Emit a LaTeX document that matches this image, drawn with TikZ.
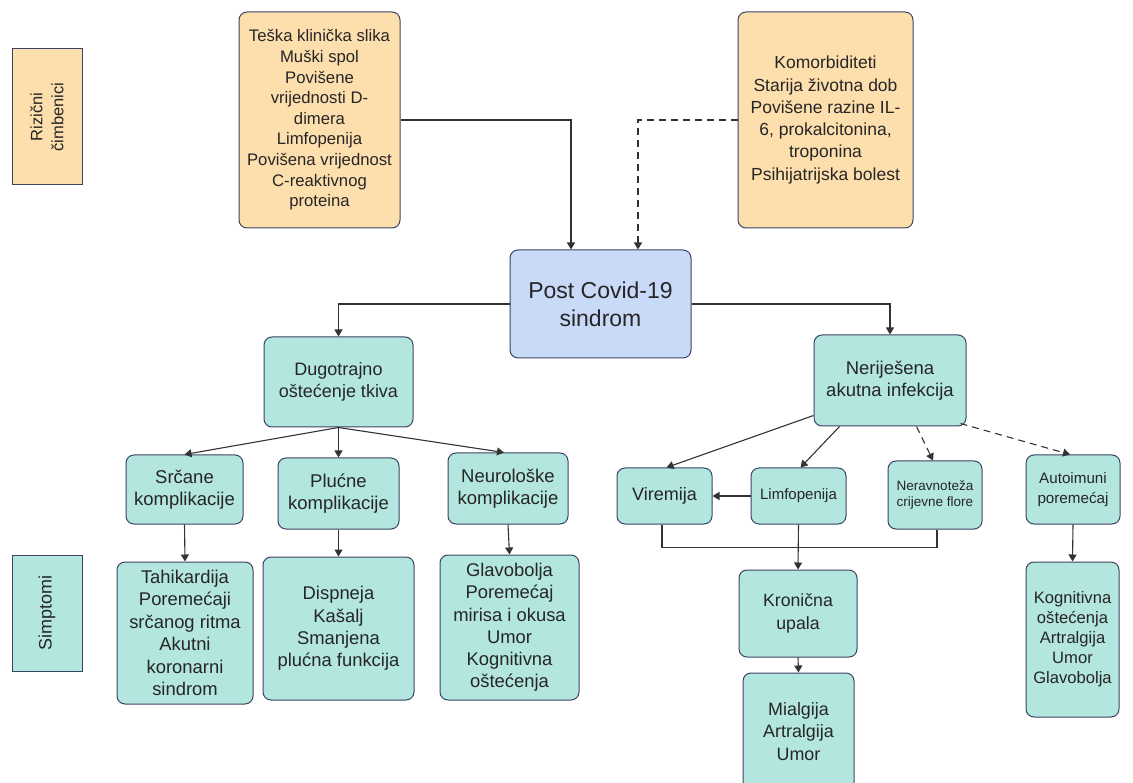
\documentclass[tikz,border=0pt]{standalone}
\usepackage{fontspec}
\setmainfont{Liberation Sans}
\usetikzlibrary{arrows.meta, shapes, positioning}

\definecolor{riskfill}{HTML}{FDDEAD}
\definecolor{symfill}{HTML}{B3E6DE}
\definecolor{corefill}{HTML}{C9DAF8}
\definecolor{boxline}{HTML}{3C4466}
\definecolor{arrowline}{HTML}{333333}

\begin{document}
\begin{tikzpicture}[
  x=1pt, y=-1pt,
  >={Triangle[width=8pt,length=7pt]},
  box/.style={
    rectangle, rounded corners=8pt,
    draw=boxline, line width=1pt,
    inner sep=2pt,
    align=center, text=black!85
  },
  side/.style={
    rectangle, draw=boxline, line width=1pt,
    rotate=90, align=center, text=black!85
  },
  risk/.style={box, fill=riskfill},
  sym/.style={box, fill=symfill},
  core/.style={box, fill=corefill},
  fsize/.style 2 args={font=\fontsize{#1}{#2}\selectfont},
  arrow/.style={->, draw=arrowline, line width=1.1pt},
  link/.style={draw=arrowline, line width=1.1pt},
  dashline/.style={dash pattern=on 7pt off 5pt}
]

\clip (0,0) rectangle (1133,783);

\node[side, fill=riskfill, minimum width=136pt, minimum height=70pt, fsize={16.5}{21}] (rizicni) at (47,117) {Rizični\\čimbenici};

\node[side, fill=symfill, minimum width=116pt, minimum height=70pt, fsize={18}{22}] (simptomi) at (47,613) {Simptomi};

\node[risk, minimum width=161pt, minimum height=216pt, fsize={16.7}{20.6}] (teska) at (319.5,120) {Teška klinička slika\\Muški spol\\Povišene\\vrijednosti D-\\dimera\\Limfopenija\\Povišena vrijednost\\C-reaktivnog\\proteina};

\node[risk, minimum width=175pt, minimum height=216pt, fsize={17.5}{22.3}] (komorb) at (825.5,120) {Komorbiditeti\\Starija životna dob\\Povišene razine IL-\\6, prokalcitonina,\\troponina\\Psihijatrijska bolest};

\node[core, minimum width=181pt, minimum height=108pt, fsize={23}{28}] (post) at (600.5,304) {Post Covid-19\\sindrom};

\node[sym, minimum width=149pt, minimum height=90pt, fsize={18}{22}] (dugotrajno) at (338.5,382) {Dugotrajno\\oštećenje tkiva};

\node[sym, minimum width=152pt, minimum height=91pt, fsize={18.5}{21.7}] (nerijesena) at (890,380.5) {Neriješena\\akutna infekcija};

\node[sym, minimum width=117pt, minimum height=69pt, fsize={18.5}{21.7}] (srcane) at (184.5,489.5) {Srčane\\komplikacije};

\node[sym, minimum width=121pt, minimum height=71pt, fsize={18.5}{21.7}] (plucne) at (338.5,493.5) {Plućne\\komplikacije};

\node[sym, minimum width=120pt, minimum height=71pt, fsize={18.5}{21.7}] (neuro) at (508,488.5) {Neurološke\\komplikacije};

\node[sym, minimum width=136pt, minimum height=142pt, fsize={18.4}{22.4}] (tahikardija) at (185,633) {Tahikardija\\Poremećaji\\srčanog ritma\\Akutni\\koronarni\\sindrom};

\node[sym, minimum width=151pt, minimum height=143pt, fsize={18.4}{22.4}] (dispneja) at (338.5,628.5) {Dispneja\\Kašalj\\Smanjena\\plućna funkcija};

\node[sym, minimum width=139pt, minimum height=145pt, fsize={18.4}{22.2}] (glavobolja) at (509.5,627.5) {Glavobolja\\Poremećaj\\mirisa i okusa\\Umor\\Kognitivna\\oštećenja};

\node[sym, minimum width=95pt, minimum height=56pt, fsize={18}{22}] (viremija) at (664.5,496) {Viremija};

\node[sym, minimum width=95pt, minimum height=56pt, fsize={15}{18}] (limfopenija) at (798.5,496) {Limfopenija};

\node[sym, minimum width=94pt, minimum height=68pt, fsize={13.5}{16}] (neravnoteza) at (935,495) {Neravnoteža\\crijevne flore};

\node[sym, minimum width=94pt, minimum height=69pt, fsize={15.2}{20.7}] (autoimuni) at (1073,489.5) {Autoimuni\\poremećaj};

\node[sym, minimum width=118pt, minimum height=87pt, fsize={17.7}{23.3}] (kronicna) at (798,613.5) {Kronična\\upala};

\node[sym, minimum width=111pt, minimum height=117pt, fsize={17.9}{22.5}] (mialgija) at (798.5,731.5) {Mialgija\\Artralgija\\Umor};

\node[sym, minimum width=93pt, minimum height=155pt, fsize={16.6}{20}] (kognitivna) at (1072.5,639.5) {Kognitivna\\oštećenja\\Artralgija\\Umor\\Glavobolja};

\draw[arrow] (teska.east) -| ([xshift=-29.5pt]post.north);
\draw[arrow, dashline] (komorb.west) -| ([xshift=37.5pt]post.north);
\draw[arrow] (post.west) -| (dugotrajno.north);
\draw[arrow] (post.east) -| (nerijesena.north);

\draw[arrow] (dugotrajno.south) -- (srcane.north);
\draw[arrow] (dugotrajno.south) -- (plucne.north);
\draw[arrow] (dugotrajno.south) -- ([xshift=-4pt]neuro.north);
\draw[arrow] (srcane.south) -- (tahikardija.north);
\draw[arrow] (plucne.south) -- (dispneja.north);
\draw[arrow] (neuro.south) -- (glavobolja.north);

\draw[arrow] ([yshift=11pt]nerijesena.south west) -- ([xshift=2pt]viremija.north);
\draw[arrow] ([xshift=26pt]nerijesena.south west) -- ([xshift=2pt]limfopenija.north);
\draw[arrow, dashline] ([xshift=103pt]nerijesena.south west) -- ([xshift=-2pt]neravnoteza.north);
\draw[arrow, dashline] ([xshift=-6pt,yshift=3pt]nerijesena.south east) -- ([xshift=-3pt]autoimuni.north);
\draw[arrow] (limfopenija.west) -- (viremija.east);
\draw[link] ([xshift=-2.5pt]viremija.south) -- ++(0,23) -| ([xshift=2pt]neravnoteza.south);
\draw[arrow] (limfopenija.south) -- (kronicna.north);
\draw[arrow] (kronicna.south) -- (mialgija.north);
\draw[arrow] (autoimuni.south) -- (kognitivna.north);

\end{tikzpicture}
\end{document}
